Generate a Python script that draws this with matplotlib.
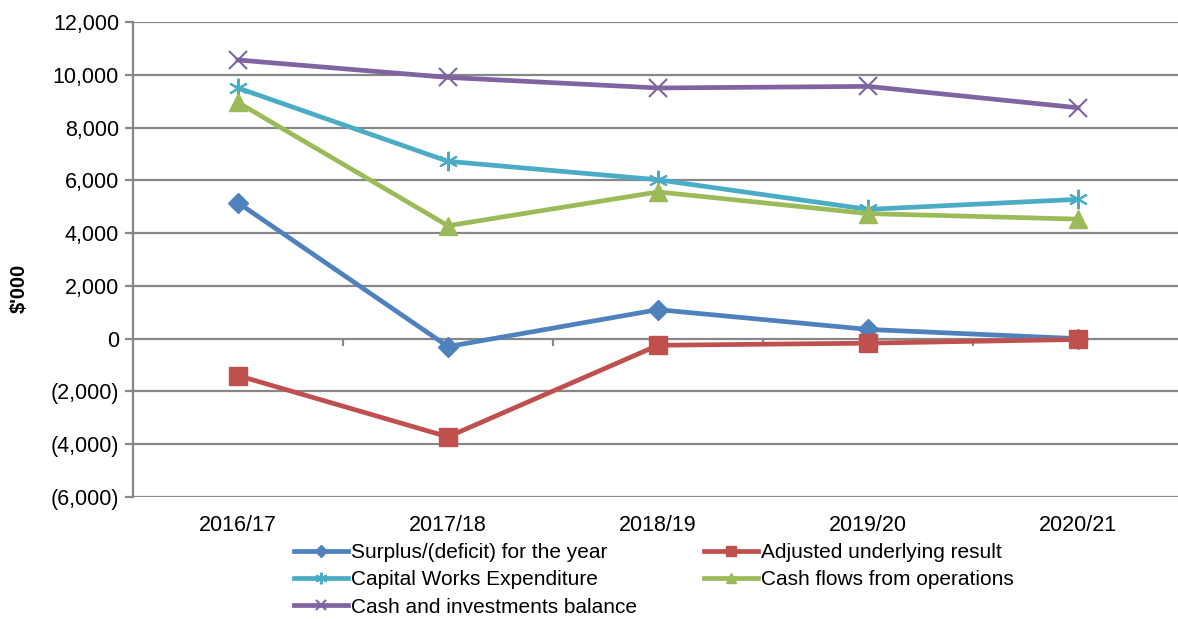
import matplotlib.pyplot as plt
from matplotlib.ticker import FuncFormatter

years = ['2016/17', '2017/18', '2018/19', '2019/20', '2020/21']
surplus = [5150, -300, 1100, 350, 0]
adjusted = [-1400, -3720, -250, -170, -30]
capital_works = [9500, 6720, 6020, 4900, 5280]
cash_flows = [8950, 4280, 5560, 4740, 4530]
cash_balance = [10560, 9900, 9500, 9560, 8750]

plt.rcParams['font.family'] = ['Liberation Sans', 'DejaVu Sans']

fig = plt.figure(figsize=(11.78, 6.19), dpi=100)
ax = fig.add_axes([133 / 1178, 122 / 619, 1045 / 1178, 475 / 619])

x = list(range(len(years)))
lw = 3.4
l1, = ax.plot(x, surplus, color='#4F81BD', lw=lw, marker='D', ms=10, label='Surplus/(deficit) for the year')
l2, = ax.plot(x, adjusted, color='#C0504D', lw=lw, marker='s', ms=13, label='Adjusted underlying result')
l3, = ax.plot(x, capital_works, color='#4BACC6', lw=lw, marker=(6, 2, 0), ms=14, mew=1.5,
              label='Capital Works Expenditure')
l4, = ax.plot(x, cash_flows, color='#9BBB59', lw=lw, marker='^', ms=13, label='Cash flows from operations')
l5, = ax.plot(x, cash_balance, color='#8064A2', lw=lw, marker='x', ms=13, mew=1.5,
              label='Cash and investments balance')

ax.set_ylim(-6000, 12000)
ax.set_yticks(range(-6000, 12001, 2000))
ax.yaxis.set_major_formatter(FuncFormatter(lambda v, p: f'({abs(v):,.0f})' if v < 0 else f'{v:,.0f}'))
ax.set_xlim(-0.5, 4.476)
ax.set_xticks(x)
ax.set_xticklabels(years)

ax.grid(axis='y', color='#878787', lw=1.6)
ax.set_axisbelow(True)
for s in ['top', 'right', 'bottom']:
    ax.spines[s].set_visible(False)
ax.spines['left'].set_color('#878787')
ax.spines['left'].set_linewidth(1.6)
ax.tick_params(axis='y', length=6, width=1.6, color='#878787', labelsize=15.5, pad=4)
ax.tick_params(axis='x', length=0, labelsize=15.5, pad=13)

# category boundary ticks on the zero line
sec = ax.secondary_xaxis(6 / 18)
sec.set_xticks([0.5, 1.5, 2.5, 3.5])
sec.set_xticklabels([])
sec.tick_params(length=5, width=1.6, color='#878787', direction='out')
sec.spines['bottom'].set_visible(False)

ax.set_ylabel("$'000", fontsize=14.5, fontweight='bold')
ax.yaxis.set_label_coords(-0.1, 0.44)

fig.legend(handles=[l1, l3, l5, l2, l4], ncol=2, loc='upper left',
           bbox_to_anchor=(294 / 1178, 1 - 543 / 619), frameon=False,
           fontsize=15, handlelength=2.6, handletextpad=0.15, columnspacing=3.2,
           labelspacing=0.4, markerscale=0.6, borderaxespad=0, borderpad=0)

fig.savefig('out.png', dpi=100)
